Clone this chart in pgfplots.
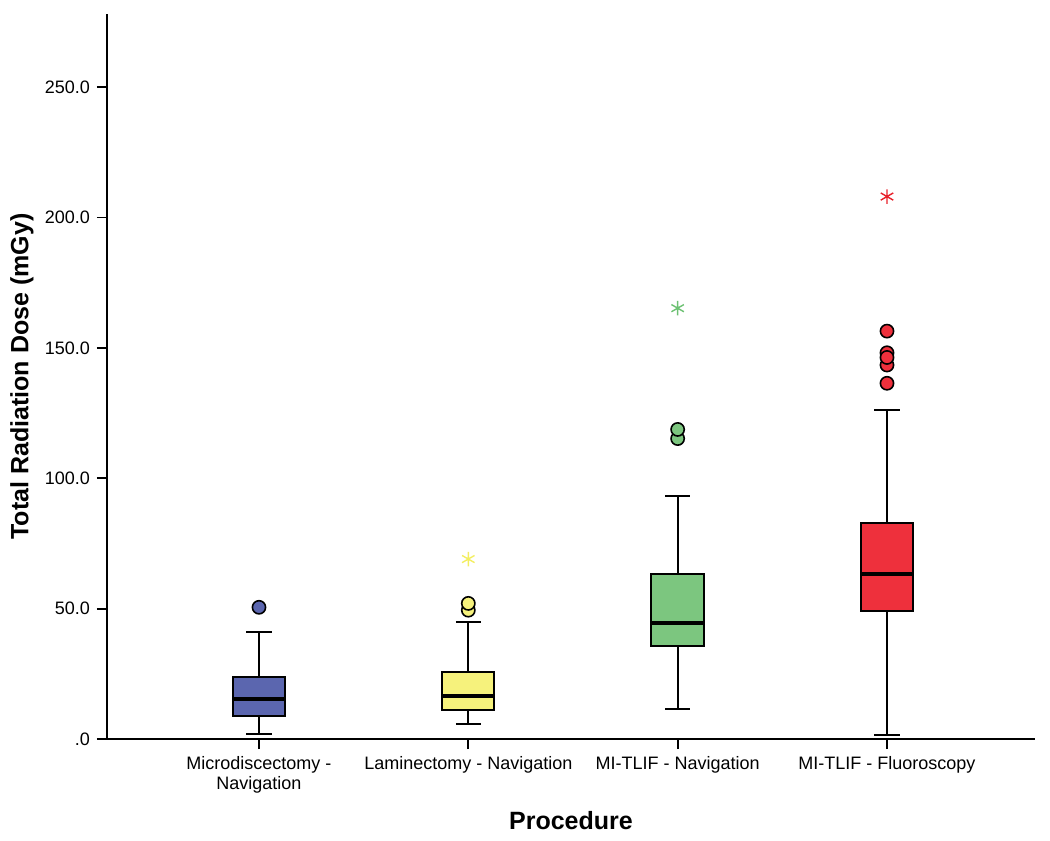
\documentclass[border=0pt]{standalone}
\usepackage{fontspec}
\setmainfont{Liberation Sans}
\usepackage{pgfplots}
\pgfplotsset{compat=1.18}
\usetikzlibrary{calc}
\definecolor{cblue}{HTML}{5B66AF}
\definecolor{cyellow}{HTML}{F6F27C}
\definecolor{cgreen}{HTML}{7CC67F}
\definecolor{cred}{HTML}{EE303C}
\definecolor{syellow}{HTML}{F3EE62}
\definecolor{sgreen}{HTML}{6DC173}
\definecolor{sred}{HTML}{E8202A}
\begin{document}
\begin{tikzpicture}
\begin{axis}[
  scale only axis, width=464pt, height=362.5pt,
  xmin=0.274, xmax=4.707, ymin=0, ymax=278,
  axis lines=left, axis line style={-, line width=0.8pt},
  xtick={1,2,3,4},
  xticklabels={{Microdiscectomy -\\Navigation},{Laminectomy - Navigation},{MI-TLIF - Navigation},{MI-TLIF - Fluoroscopy}},
  xticklabel style={align=center, font=\fontsize{9}{10}\selectfont},
  ytick={0,50,100,150,200,250},
  yticklabels={.0,50.0,100.0,150.0,200.0,250.0},
  yticklabel style={font=\fontsize{9}{10}\selectfont},
  tick style={black, line width=0.9pt},
  tick align=outside, major tick length=5pt,
  xlabel={Procedure}, ylabel={Total Radiation Dose (mGy)},
  label style={font=\fontsize{12.5}{14}\selectfont\bfseries},
  xlabel style={at={(axis description cs:0.5,-0.113)}, anchor=center},
  ylabel style={at={(axis description cs:-0.0916,0.5)}, anchor=center},
  clip=false,
  whisk/.style={black, line width=1pt, mark=none},
  boxs/.style={draw=black, line width=1pt, mark=none},
  med/.style={black, line width=2pt, mark=none},
  outl/.style={only marks, mark=*, mark size=3.3pt, mark options={draw=black, line width=0.8pt, fill=#1}},
  star/.style={only marks, mark=asterisk, mark size=3.6pt, color=#1, line width=0.7pt},
]
% ---- Microdiscectomy - Navigation (x=1)
\addplot[whisk] coordinates {(1,23.9) (1,41.2)};
\addplot[whisk] coordinates {(0.94,41.2) (1.06,41.2)};
\addplot[whisk] coordinates {(1,8.8) (1,2.0)};
\addplot[whisk] coordinates {(0.94,2.0) (1.06,2.0)};
\addplot[boxs, fill=cblue] coordinates {(0.875,8.8) (1.125,8.8) (1.125,23.9) (0.875,23.9)} --cycle;
\addplot[med] coordinates {(0.875,15.4) (1.125,15.4)};
\addplot[outl=cblue] coordinates {(1,50.5)};
% ---- Laminectomy - Navigation (x=2)
\addplot[whisk] coordinates {(2,25.6) (2,45.0)};
\addplot[whisk] coordinates {(1.94,45.0) (2.06,45.0)};
\addplot[whisk] coordinates {(2,11.1) (2,5.8)};
\addplot[whisk] coordinates {(1.94,5.8) (2.06,5.8)};
\addplot[boxs, fill=cyellow] coordinates {(1.875,11.1) (2.125,11.1) (2.125,25.6) (1.875,25.6)} --cycle;
\addplot[med] coordinates {(1.875,16.4) (2.125,16.4)};
\addplot[outl=cyellow] coordinates {(2,49.4) (2,52.0)};
\addplot[star=syellow] coordinates {(2,69.0)};
% ---- MI-TLIF - Navigation (x=3)
\addplot[whisk] coordinates {(3,63.4) (3,93.0)};
\addplot[whisk] coordinates {(2.94,93.0) (3.06,93.0)};
\addplot[whisk] coordinates {(3,35.8) (3,11.6)};
\addplot[whisk] coordinates {(2.94,11.6) (3.06,11.6)};
\addplot[boxs, fill=cgreen] coordinates {(2.875,35.8) (3.125,35.8) (3.125,63.4) (2.875,63.4)} --cycle;
\addplot[med] coordinates {(2.875,44.6) (3.125,44.6)};
\addplot[outl=cgreen] coordinates {(3,115.2) (3,118.7)};
\addplot[star=sgreen] coordinates {(3,165.2)};
% ---- MI-TLIF - Fluoroscopy (x=4)
\addplot[whisk] coordinates {(4,82.8) (4,126.2)};
\addplot[whisk] coordinates {(3.94,126.2) (4.06,126.2)};
\addplot[whisk] coordinates {(4,49.2) (4,1.5)};
\addplot[whisk] coordinates {(3.94,1.5) (4.06,1.5)};
\addplot[boxs, fill=cred] coordinates {(3.875,49.2) (4.125,49.2) (4.125,82.8) (3.875,82.8)} --cycle;
\addplot[med] coordinates {(3.875,63.2) (4.125,63.2)};
\addplot[outl=cred] coordinates {(4,136.4) (4,143.4) (4,148.1) (4,146.3) (4,156.4)};
\addplot[star=sred] coordinates {(4,208.0)};
\end{axis}
\pgfresetboundingbox
\path ($(current axis.south west)+(-53.5pt,-51pt)$) rectangle ($(current axis.north east)+(7.5pt,7pt)$);
\end{tikzpicture}
\end{document}
